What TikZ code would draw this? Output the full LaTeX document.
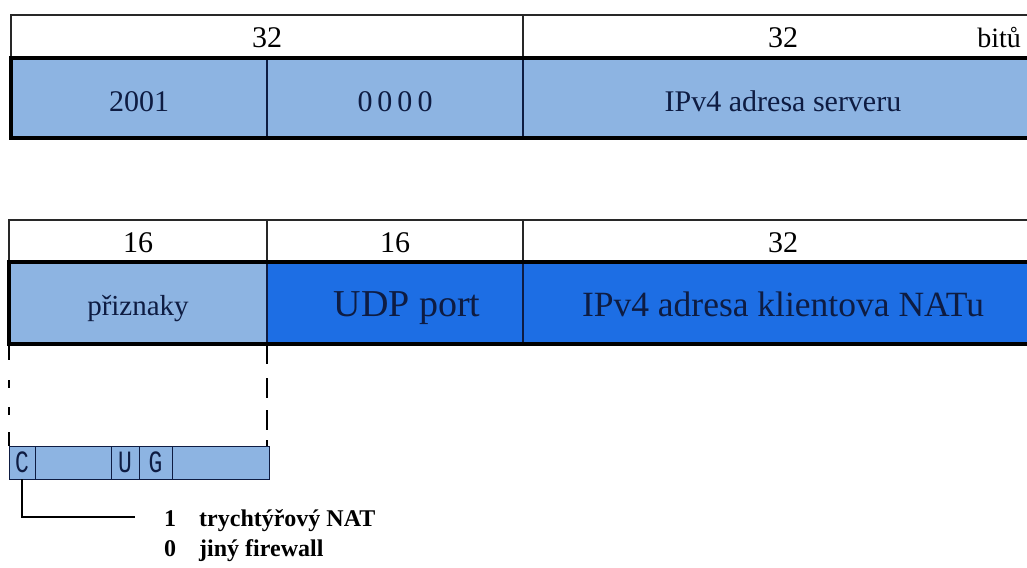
\documentclass[tikz,border=0pt]{standalone}
\usepackage{fontspec}
\setmainfont{Liberation Serif}
\newfontfamily\flagfont[FakeStretch=0.74]{Liberation Mono}
\definecolor{pale}{RGB}{141,180,226}
\definecolor{deep}{RGB}{29,110,228}
\definecolor{ink}{RGB}{14,28,66}
\definecolor{rule}{RGB}{40,40,40}
\begin{document}
\begin{tikzpicture}[x=1pt,y=-1pt,
  base/.style={inner sep=0pt, outer sep=0pt, rectangle},
  hcell/.style={base, draw=rule, line width=1.1pt, fill=white,
    font=\fontsize{30}{30}\selectfont, text height=24pt, text depth=1pt},
  bcell/.style={base, draw=ink, line width=1.1pt, text=ink},
  bigtxt/.style={font=\fontsize{30}{30}\selectfont},
  hugetxt/.style={font=\fontsize{38}{38}\selectfont},
  thick edge/.style={draw=black, line width=3.6pt, line cap=rect},
  flagcell/.style={base, draw=ink, line width=1pt, fill=pale, text=ink,
    minimum height=33pt, font=\flagfont\fontsize{31}{31}\selectfont},
  legend/.style={inner sep=0pt, anchor=base west,
    font=\bfseries\fontsize{24}{24}\selectfont},
  guide/.style={draw=black, line width=1.2pt}]

\useasboundingbox (0,0) rectangle (1027,567);
\fill[white] (0,0) rectangle (1027,567);

% ---- server address layout: 2001:0000 + IPv4 ----
\node[hcell, minimum width=512pt, minimum height=43pt] (ta) at (267,36.5) {32};
\node[hcell, minimum width=520pt, minimum height=43pt] (tb) at (783,36.5) {32};
\node[anchor=base east, inner sep=0pt, font=\fontsize{28}{28}\selectfont] (unit) at (1021,48) {bitů};

\node[bcell, fill=pale, bigtxt, minimum width=256pt, minimum height=80pt,
      text height=28pt, text depth=0pt] (s1) at (139,98) {2001};
\node[bcell, fill=pale, bigtxt, minimum width=256pt, minimum height=80pt,
      text height=28pt, text depth=0pt] (s2) at (395,98) {0\,0\,0\,0};
\node[bcell, fill=pale, bigtxt, minimum width=520pt, minimum height=80pt,
      text height=28pt, text depth=0pt] (s3) at (783,98) {IPv4 adresa serveru};
\draw[thick edge] (s1.north west) -- (s3.north east);
\draw[thick edge] (s1.south west) -- (s3.south east);
\draw[draw=black, line width=4.5pt] (s1.north west) -- (s1.south west);

% ---- client layout: flags, UDP port, IPv4 of the NAT ----
\node[hcell, minimum width=258pt, minimum height=42pt, text height=23pt, text depth=0pt] (pa) at (138,241) {16};
\node[hcell, minimum width=256pt, minimum height=42pt, text height=23pt, text depth=0pt] (pb) at (395,241) {16};
\node[hcell, minimum width=520pt, minimum height=42pt, text height=23pt, text depth=0pt] (pc) at (783,241) {32};

\node[bcell, fill=pale, minimum width=258pt, minimum height=82pt,
      font=\fontsize{29}{29}\selectfont, text height=24pt, text depth=0pt] (p1) at (138,303) {přiznaky};
\node[bcell, fill=deep, minimum width=256pt, minimum height=82pt, hugetxt,
      text height=26pt, text depth=0pt] (p2) at (395,303) {\hspace*{24pt}UDP port};
\node[bcell, fill=deep, minimum width=520pt, minimum height=82pt,
      font=\fontsize{35.5}{35.5}\selectfont, text height=27pt, text depth=0pt] (p3) at (783,303) {IPv4 adresa klientova NATu};
\draw[thick edge] (p1.north west) -- (p3.north east);
\draw[thick edge] (p1.south west) -- (p3.south east);
\draw[draw=black, line width=4.5pt] (p1.north west) -- (p1.south west);

% ---- flag bits of the first 16-bit field ----
\node[flagcell, minimum width=26pt, anchor=north west] (fc) at (9,446) {C};
\node[flagcell, minimum width=76pt, anchor=north west] (fx) at (fc.north east) {};
\node[flagcell, minimum width=28pt, anchor=north west] (fu) at (fx.north east) {U};
\node[flagcell, minimum width=33pt, anchor=north west] (fg) at (fu.north east) {G};
\node[flagcell, minimum width=97pt, anchor=north west] (fr) at (fg.north east) {};

% expansion guides from the flags field down to the bit bar
\draw[guide, dash pattern=on 16pt off 20pt on 8pt off 19pt on 8pt off 17pt]
  (p1.south west) -- (fc.north west);
\draw[guide, dash pattern=on 20pt off 14pt on 20pt off 12pt on 20pt off 10pt]
  (p1.south east) -- (p1.south east |- fr.north);

% ---- meaning of the C bit ----
\coordinate (cend) at (135,517);
\draw[guide, line width=1.1pt] (fc.south) |- (cend);
\node[legend] (one) at (164,526) {1};
\node[legend] (natlbl) at (199,526) {trychtýřový NAT};
\node[legend] (zero) at (164,556) {0};
\node[legend] (fwlbl) at (199,556) {jiný firewall};
\end{tikzpicture}
\end{document}
